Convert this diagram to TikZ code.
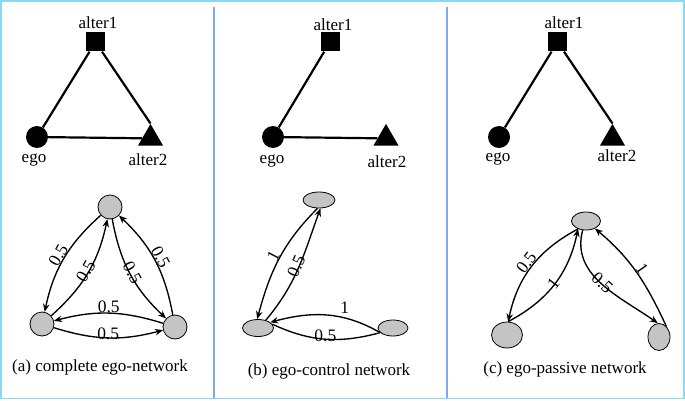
\documentclass[tikz,border=0pt]{standalone}
\usepackage{fontspec}
\setmainfont{Liberation Serif}
\usetikzlibrary{arrows.meta,shapes.geometric}
\definecolor{framecol}{HTML}{8AD8F2}
\definecolor{divcol}{HTML}{7FA8F2}
\definecolor{nodegray}{HTML}{C4C4C4}
\begin{document}
\begin{tikzpicture}[x=1pt,y=1pt,
  txt/.style={font=\fontsize{17}{20}\selectfont, inner sep=0pt, anchor=base},
  lbl/.style={font=\fontsize{17.5}{20}\selectfont, inner sep=1pt},
  tie/.style={line width=2.2pt},
  sq/.style={rectangle, fill=black, minimum size=19pt, inner sep=0pt},
  dot/.style={circle, fill=black, minimum size=22pt, inner sep=0pt},
  tri/.style={regular polygon, regular polygon sides=3, fill=black, inner sep=0pt, minimum size=29pt},
  gcirc/.style={circle, draw=black, line width=0.8pt, fill=nodegray, minimum size=24pt, inner sep=0pt},
  gell/.style={ellipse, draw=black, line width=0.8pt, fill=nodegray, inner sep=0pt},
  arc/.style={line width=1.35pt, -{Stealth[length=8pt,width=6.5pt]}},
  plain/.style={line width=1.35pt}
]
\useasboundingbox (0,0) rectangle (685,400);
% frame and dividers
\draw[framecol, line width=1.3pt] (1,1.5) rectangle (684,399);
\coordinate (d1t) at (214,393); \coordinate (d1b) at (214,2);
\coordinate (d2t) at (447,393); \coordinate (d2b) at (447,2);
\draw[divcol, line width=1.5pt] (d1t) -- (d1b);
\draw[divcol, line width=1.5pt] (d2t) -- (d2b);

% ---------------- panel (a) top
\node[sq]  (a1) at (95.5,358) {};
\node[dot] (ae) at (37,263) {};
\node[tri] (a2) at (150.5,261.6) {};
\node[txt] (a1t) at (98,371) {alter1};
\node[txt] (aet) at (34,238) {ego};
\node[txt] (a2t) at (148,235) {alter2};
\draw[tie] (ae) -- (a1);
\draw[tie] (a1) -- (a2.corner 1);
\draw[tie] (ae) -- (a2);

% ---------------- panel (b) top
\node[sq]  (b1) at (330,358) {};
\node[dot] (be) at (273,263) {};
\node[tri] (b2) at (386,261.6) {};
\node[txt] (b1t) at (333,370) {alter1};
\node[txt] (bet) at (272,237) {ego};
\node[txt] (b2t) at (387,233) {alter2};
\draw[tie] (be) -- (b1);
\draw[tie] (be) -- (b2);

% ---------------- panel (c) top
\node[sq]  (c1) at (557.5,358) {};
\node[dot] (ce) at (499,263) {};
\node[tri] (c2) at (612.5,261.6) {};
\node[txt] (c1t) at (564,371) {alter1};
\node[txt] (cet) at (498,239) {ego};
\node[txt] (c2t) at (617,239) {alter2};
\draw[tie] (c1) -- (ce);
\draw[tie] (c1) -- (c2.corner 1);

% ---------------- panel (a) bottom
\node[gcirc] (aT) at (110,193) {};
\node[gcirc] (aL) at (42,76) {};
\node[gcirc] (aR) at (175,73) {};
\draw[arc] (aT) to[bend right=18] node[lbl, sloped, above=-1pt] {0.5} (aL);
\draw[arc] (aL) to[bend right=18] node[lbl, sloped, above=-5pt] {0.5} (aT);
\draw[arc] (aT) to[bend right=18] node[lbl, sloped, above=-5pt] {0.5} (aR);
\draw[arc] (aR) to[bend right=18] node[lbl, sloped, above=-1pt] {0.5} (aT);
\draw[arc] (aR) to[bend right=16] node[lbl, above=-1pt] {0.5} (aL);
\draw[arc] (aL) to[bend right=16] node[lbl, above=-4pt] {0.5} (aR);
\node[txt] (capa) at (100,29) {(a) complete ego-network};

% ---------------- panel (b) bottom
\node[gell, minimum width=32pt, minimum height=16pt] (bT) at (319,200) {};
\node[gell, minimum width=31pt, minimum height=17pt] (bL) at (258,72) {};
\node[gell, minimum width=30pt, minimum height=16pt] (bR) at (393,72) {};
\draw[arc] (bT.-100) to[out=225, in=75] node[lbl, sloped, above=-1pt] {1} (bL.95);
\draw[arc] (bL.45) to[out=50, in=250] node[lbl, sloped, above=-5pt] {0.5} (bT.-80);
\draw[arc] (bR.200) to[out=150, in=15] node[lbl, pos=0.33, above=3pt] {1} (bL.25);
\draw[plain] (bL.15) to[out=-25, in=195] node[lbl, above=-4pt] {0.5} (bR.200);
\node[txt] (capb) at (329,25) {(b) ego-control network};

% ---------------- panel (c) bottom
\node[gell, minimum width=29pt, minimum height=18pt] (cT) at (586,179) {};
\node[gell, minimum width=31pt, minimum height=26pt] (cL) at (507,65) {};
\node[gell, minimum width=22pt, minimum height=27pt] (cR) at (659,63) {};
\draw[arc] (cT.225) to[bend right=25] node[lbl, sloped, above=-1pt] {0.5} (cL.85);
\draw[arc] (cL.85) to[bend right=25] node[lbl, sloped, above=-6pt] {1} (cT.225);
\draw[arc] (cT.-110) to[out=255, in=145] node[lbl, sloped, above=-6pt] {0.5} (cR.95);
\draw[arc] (cR.55) to[out=115, in=-40] node[lbl, sloped, above=-1pt] {1} (cT.-40);
\node[txt] (capc) at (565,27) {(c) ego-passive network};
\end{tikzpicture}
\end{document}
